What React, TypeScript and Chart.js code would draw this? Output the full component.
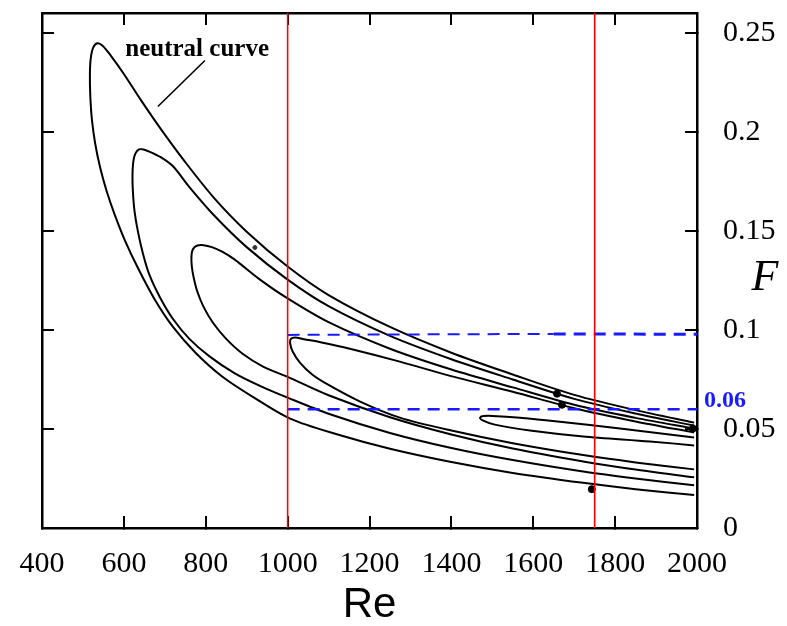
import React, { useEffect, useRef } from "react";
import { Chart, registerables } from "chart.js";

Chart.register(...registerables);

// Axis ranges / ticks
const RE_MIN = 400;
const RE_MAX = 2000;
const RE_STEP = 200;
const F_MIN = 0;
const F_MAX = 0.26;
const F_STEP = 0.05;

// Contours [Re, F]: upper branch (right -> tip) then lower branch (tip -> right)
const neutralCurve: number[][] = [
  [1993, 0.0532], [1850, 0.0595], [1700, 0.0672], [1550, 0.0775], [1400, 0.0885], [1250, 0.1015],
  [1100, 0.1176], [1000, 0.132], [900, 0.1496], [820, 0.1667], [750, 0.1847], [690, 0.2015],
  [640, 0.2165], [600, 0.2292], [568, 0.2385], [548, 0.2435], [535, 0.2447], [525, 0.2425],
  [519, 0.237], [517, 0.229], [518, 0.218], [522, 0.206], [530, 0.194], [542, 0.182],
  [558, 0.17], [578, 0.158], [603, 0.145], [635, 0.131], [675, 0.1155], [720, 0.1015],
  [775, 0.0885], [840, 0.0765], [915, 0.0662], [1006, 0.0552], [1120, 0.0473], [1250, 0.0400],
  [1400, 0.0333], [1550, 0.0278], [1722, 0.0228], [1850, 0.0196], [1993, 0.0166],
];

const contourB: number[][] = [
  [1993, 0.0517], [1850, 0.0578], [1700, 0.0652], [1550, 0.0750], [1400, 0.0852], [1250, 0.0970],
  [1100, 0.112], [1000, 0.1254], [900, 0.1418], [820, 0.1579], [760, 0.1721], [720, 0.1826],
  [690, 0.1872], [665, 0.1898], [648, 0.1911], [637, 0.1911], [628, 0.189], [623, 0.185],
  [621, 0.178], [622, 0.17], [626, 0.16], [634, 0.15], [646, 0.139], [662, 0.128],
  [688, 0.1165], [720, 0.1055], [760, 0.0955], [810, 0.0865], [870, 0.0782], [935, 0.0715],
  [1000, 0.0658], [1100, 0.0577], [1250, 0.0480], [1400, 0.0404], [1550, 0.0343], [1722, 0.0285],
  [1850, 0.0250], [1993, 0.0216],
];

const contourC: number[][] = [
  [1993, 0.0502], [1850, 0.0556], [1700, 0.0622], [1550, 0.0710], [1400, 0.0800], [1250, 0.0905],
  [1100, 0.1039], [1000, 0.1159], [930, 0.1258], [870, 0.1356], [840, 0.1395], [815, 0.1418],
  [795, 0.1428], [778, 0.1425], [768, 0.1405], [765, 0.137], [766, 0.132], [771, 0.126],
  [780, 0.119], [795, 0.1115], [818, 0.1035], [850, 0.0955], [890, 0.088], [940, 0.0815],
  [1000, 0.0763], [1100, 0.0670], [1250, 0.0559], [1400, 0.0472], [1550, 0.0401], [1722, 0.0336],
  [1850, 0.0295], [1993, 0.0256],
];

const contourD: number[][] = [
  [1993, 0.0482], [1850, 0.0538], [1700, 0.0605], [1550, 0.0688], [1397, 0.0768], [1274, 0.0840],
  [1152, 0.0905], [1080, 0.0938], [1040, 0.0953], [1018, 0.0962], [1008, 0.0955], [1006, 0.0934],
  [1012, 0.0892], [1030, 0.0835], [1060, 0.0775], [1100, 0.0722], [1177, 0.0638], [1274, 0.0557],
  [1400, 0.0492], [1550, 0.0428], [1722, 0.0368], [1850, 0.0331], [1993, 0.0296],
];

const contourE: number[][] = [
  [1993, 0.0457], [1812, 0.0502], [1665, 0.0537], [1568, 0.0557], [1500, 0.0566], [1478, 0.0565],
  [1470, 0.0557], [1475, 0.0545], [1506, 0.0522], [1592, 0.0492], [1722, 0.0462], [1885, 0.0437],
  [1993, 0.0417],
];

// Markers
const markerPoints: number[][] = [
  [1658, 0.0678], [1670, 0.0622], [1743, 0.0196], [1990, 0.0502],
];
const smallMark: number[][] = [[920, 0.1416]];

// Reference lines
const redLinesRe = [1000, 1750];
const blueUpperLeft: number[][] = [[1000, 0.0975], [1650, 0.098]];
const blueUpperRight: number[][] = [[1650, 0.098], [2000, 0.0978]];
const blueLower: number[][] = [[1000, 0.06], [2000, 0.06]];

// Annotation
const leaderLine: number[][] = [[798, 0.236], [683, 0.2128]];
const annotationText = "neutral curve";
const annotationPos = [779, 0.2385];
const markValue = 0.06;

const toXY = (arr: number[][]) => arr.map(([x, y]) => ({ x, y }));

const curveDs = (arr: number[][]) => ({
  data: toXY(arr),
  showLine: true,
  borderColor: "#000",
  borderWidth: 2,
  pointRadius: 0,
  tension: 0.3,
  fill: false,
});

export default function App() {
  const ref = useRef<HTMLCanvasElement | null>(null);

  useEffect(() => {
    if (!ref.current) return;

    const textPlugin = {
      id: "texts",
      afterDatasetsDraw(chart: any) {
        const { ctx, chartArea, scales } = chart;
        ctx.save();
        ctx.fillStyle = "#000";
        ctx.font = "bold 25px 'Liberation Serif'";
        ctx.textAlign = "center";
        ctx.textBaseline = "alphabetic";
        ctx.fillText(
          annotationText,
          scales.x.getPixelForValue(annotationPos[0]),
          scales.y.getPixelForValue(annotationPos[1])
        );
        ctx.fillStyle = "#1a1aff";
        ctx.font = "bold 24px 'Liberation Serif'";
        ctx.textAlign = "left";
        ctx.textBaseline = "middle";
        ctx.fillText("0.06", chartArea.right + 7, scales.y.getPixelForValue(markValue) - 8);
        ctx.fillStyle = "#000";
        ctx.font = "italic 44px 'Liberation Serif'";
        ctx.textAlign = "center";
        ctx.textBaseline = "middle";
        ctx.fillText("F", chartArea.right + 68, scales.y.getPixelForValue(0.126));
        ctx.restore();
      },
    };

    const tickFont = { family: "'Liberation Serif', serif", size: 30 };
    const gridCommon = {
      display: true,
      drawOnChartArea: false,
      drawTicks: true,
      tickLength: -12,
      color: "#000",
      lineWidth: 2,
    };
    const borderCommon = { display: true, color: "#000", width: 2.5 };

    const chart = new Chart(ref.current, {
      type: "scatter",
      data: {
        datasets: [
          ...redLinesRe.map((re) => ({
            data: [{ x: re, y: F_MIN }, { x: re, y: F_MAX }],
            showLine: true,
            borderColor: "#ff0000",
            borderWidth: 1.6,
            pointRadius: 0,
          })),
          {
            data: toXY(blueUpperLeft),
            showLine: true,
            borderColor: "#1a1aff",
            borderWidth: 2,
            borderDash: [12, 8],
            pointRadius: 0,
          },
          {
            data: toXY(blueUpperRight),
            showLine: true,
            borderColor: "#1a1aff",
            borderWidth: 3,
            borderDash: [12, 8],
            pointRadius: 0,
          },
          {
            data: toXY(blueLower),
            showLine: true,
            borderColor: "#1a1aff",
            borderWidth: 2.5,
            borderDash: [12, 8],
            pointRadius: 0,
          },
          curveDs(neutralCurve),
          curveDs(contourB),
          curveDs(contourC),
          curveDs(contourD),
          curveDs(contourE),
          {
            data: toXY(leaderLine),
            showLine: true,
            borderColor: "#000",
            borderWidth: 1.6,
            pointRadius: 0,
          },
          {
            data: toXY(markerPoints),
            showLine: false,
            pointRadius: 3.5,
            pointBackgroundColor: "#000",
            pointBorderColor: "#000",
          },
          {
            data: toXY(smallMark),
            showLine: false,
            pointRadius: 2,
            pointBackgroundColor: "#333",
            pointBorderColor: "#333",
          },
        ] as any,
      },
      options: {
        animation: false,
        responsive: false,
        events: [],
        layout: { padding: { left: 34, top: 2, right: 0, bottom: 0 } },
        plugins: { legend: { display: false }, tooltip: { enabled: false } },
        scales: {
          x: {
            type: "linear",
            position: "bottom",
            min: RE_MIN,
            max: RE_MAX,
            ticks: {
              stepSize: RE_STEP,
              font: tickFont,
              color: "#000",
              padding: 30,
              maxRotation: 0,
              callback: (v: any) => String(v),
            },
            grid: gridCommon,
            border: borderCommon,
            title: {
              display: true,
              text: "Re",
              color: "#000",
              font: { family: "'Liberation Sans', sans-serif", size: 42, lineHeight: 1 },
              padding: { top: 0, bottom: -8 },
            },
            afterFit: (s: any) => {
              s.height = 90;
              s.paddingLeft = 0;
              s.paddingRight = 0;
            },
          },
          x2: {
            type: "linear",
            position: "top",
            min: RE_MIN,
            max: RE_MAX,
            ticks: { stepSize: RE_STEP, display: false },
            grid: gridCommon,
            border: borderCommon,
            afterFit: (s: any) => {
              s.height = 0;
              s.paddingLeft = 0;
              s.paddingRight = 0;
            },
          },
          y: {
            type: "linear",
            position: "right",
            min: F_MIN,
            max: F_MAX,
            ticks: {
              stepSize: F_STEP,
              includeBounds: false,
              font: tickFont,
              color: "#000",
              padding: 38,
              callback: (v: any) => String(Number(Number(v).toFixed(2))),
            },
            grid: gridCommon,
            border: borderCommon,
            afterFit: (s: any) => {
              s.width = 82;
              s.paddingTop = 0;
              s.paddingBottom = 0;
            },
          },
          y2: {
            type: "linear",
            position: "left",
            min: F_MIN,
            max: F_MAX,
            ticks: { stepSize: F_STEP, includeBounds: false, display: false },
            grid: gridCommon,
            border: borderCommon,
            afterFit: (s: any) => {
              s.width = 0;
              s.paddingTop = 0;
              s.paddingBottom = 0;
            },
          },
        },
      } as any,
      plugins: [textPlugin],
    });

    return () => chart.destroy();
  }, []);

  return <canvas ref={ref} width={771} height={610} style={{ display: "block" }} />;
}
